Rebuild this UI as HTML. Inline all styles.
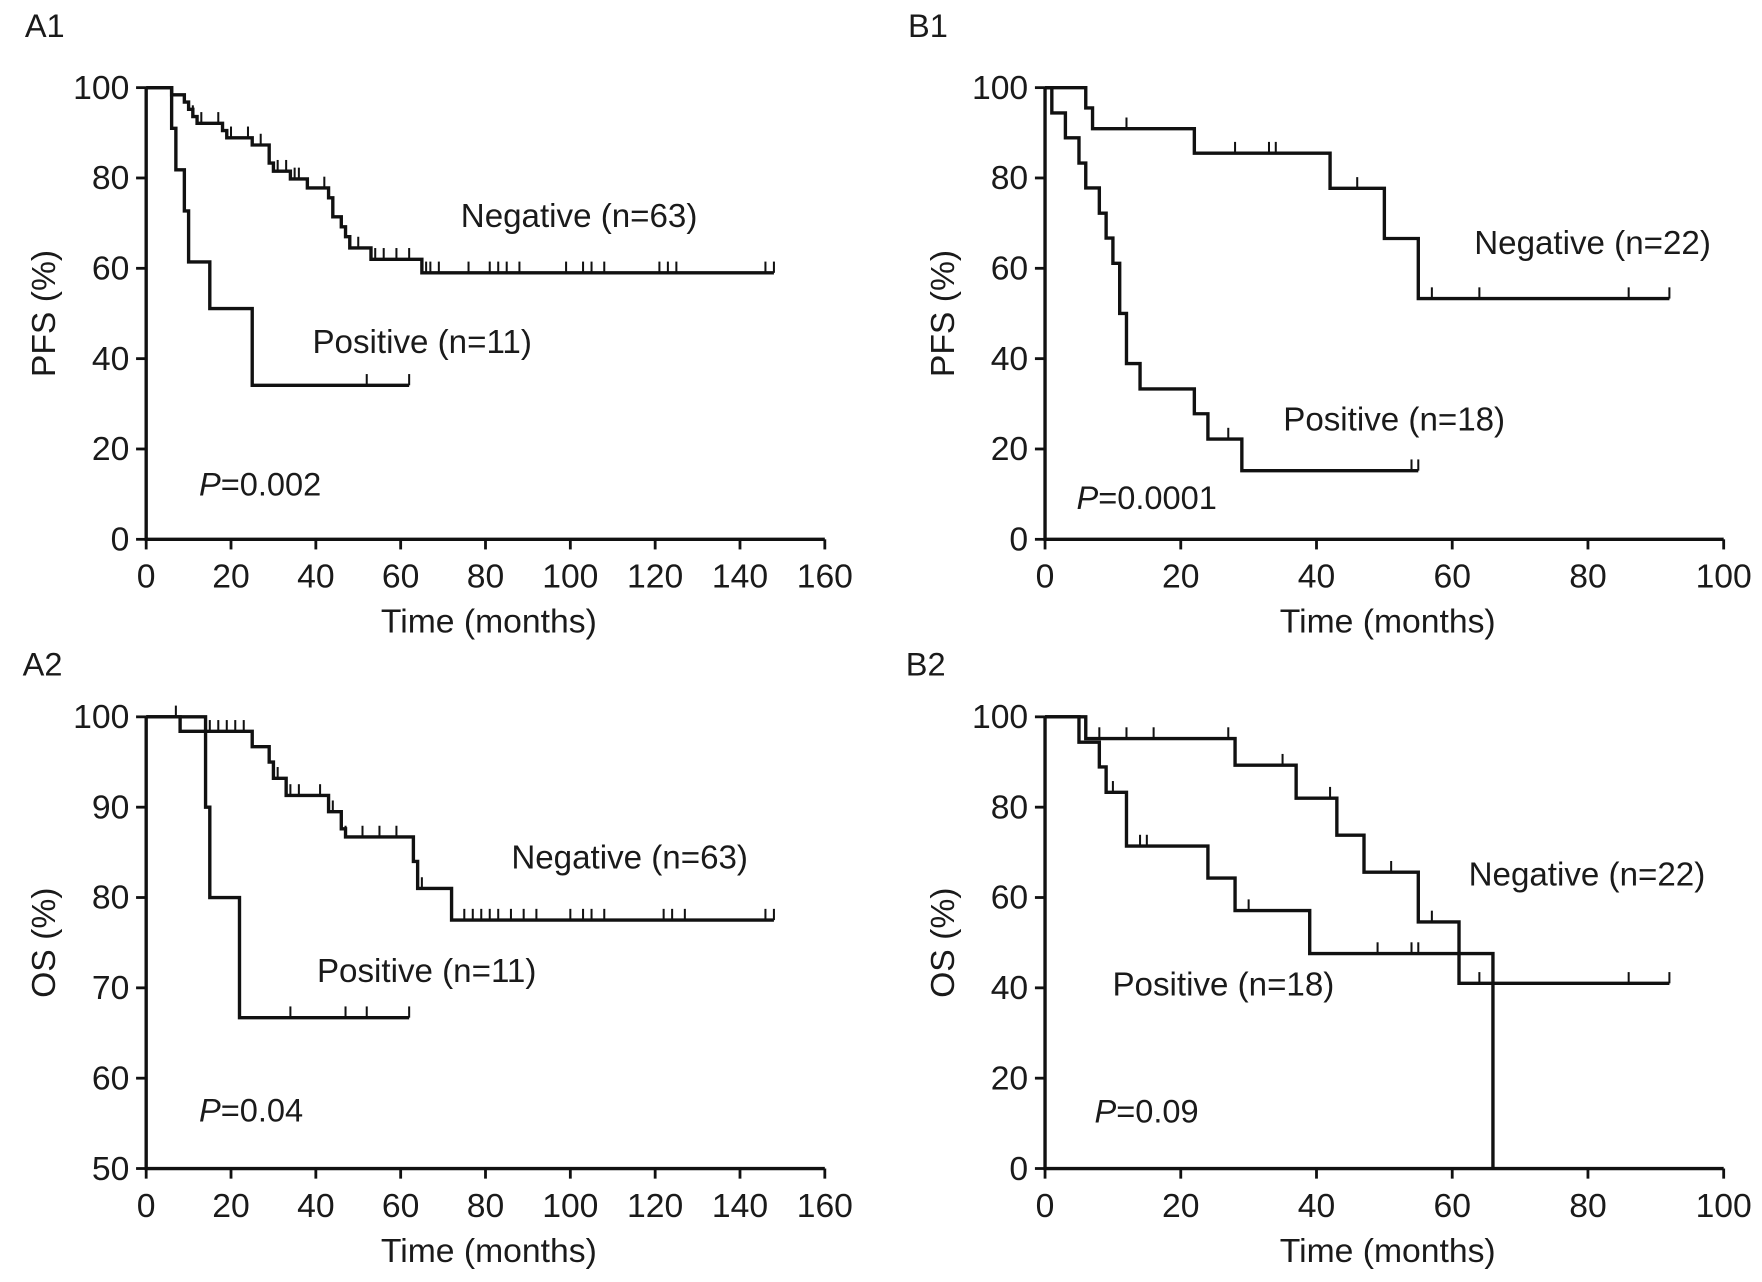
<!DOCTYPE html>
<html><head><meta charset="utf-8">
<style>
html,body{margin:0;padding:0;background:#fff;}
svg{display:block;}
text{font-family:"Liberation Sans",Arial,sans-serif;fill:#1a1a1a;}
</style></head>
<body>
<svg id="fig" width="1762" height="1282" viewBox="0 0 1568 1141" xmlns="http://www.w3.org/2000/svg"></svg>
<script>
// ---- data ----
const a1NegSteps = [[0,100],[6,98.4],[9,96.8],[10,95.2],[11,93.6],[12,92.1],[18,90.5],[19,88.9],[25,87.3],[29,83.3],[30,81.5],[34,79.8],[38,77.8],[43,75.6],[44,71.4],[46,69.2],[47,67],[48,64.5],[53,62],[65,59]];
const a1NegEnd = 148;
const a1NegCensor = [11,13,17,20,24,27,31,33,35,36,42,46,50,54,56,59,62,66,67,69,76,81,83,85,88,99,103,105,108,121,123,125,146,148];
const a1PosSteps = [[0,100],[6,91],[7,81.8],[9,72.7],[10,61.4],[15,51.1],[25,34.1]];
const a1PosEnd = 62;
const a1PosCensor = [52,62];

const a2NegSteps = [[0,100],[8,98.4],[25,96.7],[29,95],[30,93.2],[33,91.3],[43,89.5],[46,87.6],[47,86.7],[63,84],[64,81],[72,77.5]];
const a2NegEnd = 148;
const a2NegCensor = [7,15,17,19,21,23,31,34,36,41,44,47,51,55,59,65,75,77,79,81,83,86,89,92,100,103,105,108,122,124,127,146,148];
const a2PosSteps = [[0,100],[14,90],[15,80],[22,66.7]];
const a2PosEnd = 62;
const a2PosCensor = [34,47,52,62];

const b1NegSteps = [[0,100],[6,95.5],[7,90.9],[22,85.5],[42,77.7],[50,66.6],[55,53.3]];
const b1NegEnd = 92;
const b1NegCensor = [12,28,33,34,46,57,64,86,92];
const b1PosSteps = [[0,100],[1,94.4],[3,88.9],[5,83.3],[6,77.8],[8,72.2],[9,66.7],[10,61.1],[11,50],[12,38.9],[14,33.3],[22,27.8],[24,22.2],[29,15.2]];
const b1PosEnd = 55;
const b1PosCensor = [27,54,55];

const b2NegSteps = [[0,100],[6,95.2],[28,89.3],[37,82],[43,73.8],[47,65.6],[55,54.6],[61,41]];
const b2NegEnd = 92;
const b2NegCensor = [8,12,16,27,35,42,51,57,64,86,92];
const b2PosSteps = [[0,100],[5,94.4],[8,88.9],[9,83.3],[12,71.4],[24,64.3],[28,57.1],[39,47.6],[66,0]];
const b2PosEnd = 66;
const b2PosCensor = [10,14,15,30,49,54,55];

const xTicksA = [0,20,40,60,80,100,120,140,160];
const xTicksB = [0,20,40,60,80,100];
const yTicksPct = [0,20,40,60,80,100];
const yTicksOS = [50,60,70,80,90,100];

const NS='http://www.w3.org/2000/svg';
const svg=document.getElementById('fig');
function mk(tag,attrs,parent){const e=document.createElementNS(NS,tag);for(const k in attrs)e.setAttribute(k,attrs[k]);(parent||svg).appendChild(e);return e;}

function panel(o){
  const g=mk('g',{});
  
  
  const X=v=>o.x0+(v-o.xmin)/(o.xmax-o.xmin)*(o.x1-o.x0);
  const Y=v=>o.yB-(v-o.ymin)/(o.ymax-o.ymin)*(o.yB-o.yT);
  const ax=mk('path',{d:`M${o.x0},${o.yT} V${o.yB} H${o.x1}`,stroke:'#111','stroke-width':3,fill:'none'},g);
  
  
  o.xt.forEach(v=>{
    mk('line',{x1:X(v),x2:X(v),y1:o.yB,y2:o.yB+9,stroke:'#111','stroke-width':2.5},g);
    const t=mk('text',{x:X(v),y:o.yB+43,'text-anchor':'middle','font-size':30},g);t.textContent=v;
    
    
  });
  o.yt.forEach(v=>{
    mk('line',{x1:o.x0-9,x2:o.x0,y1:Y(v),y2:Y(v),stroke:'#111','stroke-width':2.5},g);
    const t=mk('text',{x:o.x0-15,y:Y(v)+10,'text-anchor':'end','font-size':30},g);t.textContent=v;
    
    
  });
  const xt=mk('text',{x:(o.x0+o.x1)/2+3,y:o.yB+83,'text-anchor':'middle','font-size':30},g);xt.textContent='Time (months)';
  
  
  const yx=o.x0-81, yy=(o.yT+o.yB)/2;
  const yt=mk('text',{x:yx,y:yy,'text-anchor':'middle','font-size':30,transform:`rotate(-90 ${yx} ${yy})`},g);yt.textContent=o.ylab;
  
  
  const lt=mk('text',{x:o.lx,y:o.ly,'font-size':29},g);lt.textContent=o.id.toUpperCase();
  
  
  o.series.forEach(s=>{
    let d=`M${X(s.steps[0][0])},${Y(s.steps[0][1])}`;
    for(let i=1;i<s.steps.length;i++){d+=` H${X(s.steps[i][0])} V${Y(s.steps[i][1])}`;}
    d+=` H${X(s.end)}`;
    const p=mk('path',{d,stroke:'#111','stroke-width':3,fill:'none'},g);
    
    
    const surv=t=>{let v=s.steps[0][1];s.steps.forEach(st=>{if(st[0]<=t)v=st[1];});return v;};
    s.cens.forEach(c=>{
      const m=mk('line',{x1:X(c),x2:X(c),y1:Y(surv(c)),y2:Y(surv(c))-10,stroke:'#111','stroke-width':1.8},g);
      
      
    });
    const lab=mk('text',{x:s.tx,y:s.ty,'font-size':29.5},g);lab.textContent=s.label;
    
    
  });
  const pv=mk('text',{x:o.px,y:o.py,'font-size':29},g);
  const pi=mk('tspan',{'font-style':'italic'},pv);pi.textContent='P';
  const pr=mk('tspan',{},pv);pr.textContent=o.pval;
  
  
}

panel({id:'a1',x0:130,x1:734,yT:78,yB:480,xmin:0,xmax:160,ymin:0,ymax:100,xt:xTicksA,yt:yTicksPct,ylab:'PFS (%)',lx:22,ly:33,px:177,py:441,pval:'=0.002',
  series:[{name:'negative',steps:a1NegSteps,end:a1NegEnd,cens:a1NegCensor,label:'Negative (n=63)',tx:410,ty:202},
          {name:'positive',steps:a1PosSteps,end:a1PosEnd,cens:a1PosCensor,label:'Positive (n=11)',tx:278,ty:314}]});
panel({id:'a2',x0:130,x1:734,yT:638,yB:1040,xmin:0,xmax:160,ymin:50,ymax:100,xt:xTicksA,yt:yTicksOS,ylab:'OS (%)',lx:20,ly:601,px:177,py:998,pval:'=0.04',
  series:[{name:'negative',steps:a2NegSteps,end:a2NegEnd,cens:a2NegCensor,label:'Negative (n=63)',tx:455,ty:773},
          {name:'positive',steps:a2PosSteps,end:a2PosEnd,cens:a2PosCensor,label:'Positive (n=11)',tx:282,ty:874}]});
panel({id:'b1',x0:930,x1:1534,yT:78,yB:480,xmin:0,xmax:100,ymin:0,ymax:100,xt:xTicksB,yt:yTicksPct,ylab:'PFS (%)',lx:808,ly:33,px:958,py:453,pval:'=0.0001',
  series:[{name:'negative',steps:b1NegSteps,end:b1NegEnd,cens:b1NegCensor,label:'Negative (n=22)',tx:1312,ty:226},
          {name:'positive',steps:b1PosSteps,end:b1PosEnd,cens:b1PosCensor,label:'Positive (n=18)',tx:1142,ty:383}]});
panel({id:'b2',x0:930,x1:1534,yT:638,yB:1040,xmin:0,xmax:100,ymin:0,ymax:100,xt:xTicksB,yt:yTicksPct,ylab:'OS (%)',lx:806,ly:601,px:974,py:999,pval:'=0.09',
  series:[{name:'negative',steps:b2NegSteps,end:b2NegEnd,cens:b2NegCensor,label:'Negative (n=22)',tx:1307,ty:788},
          {name:'positive',steps:b2PosSteps,end:b2PosEnd,cens:b2PosCensor,label:'Positive (n=18)',tx:990,ty:886}]});
</script>
</body></html>
